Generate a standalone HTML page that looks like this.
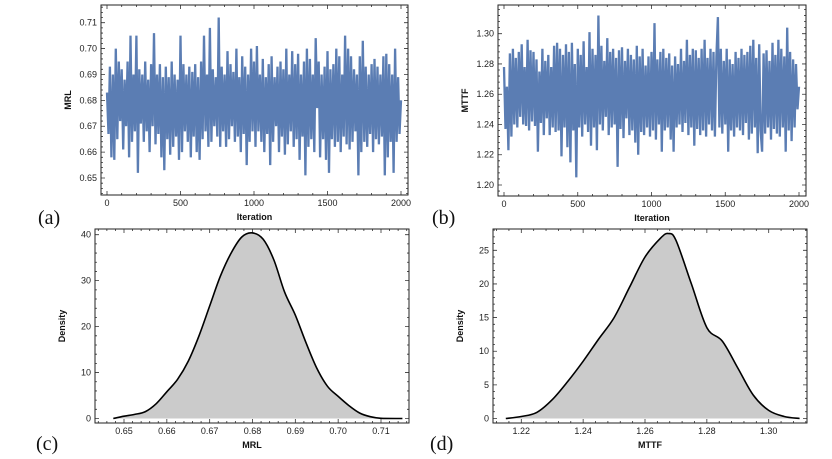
<!DOCTYPE html>
<html><head><meta charset="utf-8"><style>
body{margin:0;background:#fff;}
svg{display:block;font-family:"Liberation Sans",sans-serif;}
.tl{font-size:9px;fill:#222;}
.at{font-size:9px;font-weight:bold;fill:#111;}
.pl{font-family:"Liberation Serif",serif;font-size:20px;fill:#111;}
</style></head><body>
<svg id="fig" width="832" height="459">
<text class="pl" x="38" y="224">(a)</text>
<text class="pl" x="432" y="224">(b)</text>
<text class="pl" x="36" y="450">(c)</text>
<text class="pl" x="430" y="450">(d)</text>
</svg>
<script>
const mrlTrace=[683,667,693,658,690,657,700,665,695,672,692,661,688,670,695,658,705,664,690,668,
705,652,692,671,690,664,695,668,688,660,694,670,706,663,690,667,694,658,689,653,
693,665,689,659,695,662,690,666,688,657,705,660,694,668,690,664,693,658,691,666,
694,660,689,657,695,665,705,668,690,662,708,664,692,670,689,666,712,662,693,668,
690,662,699,665,694,670,691,664,700,666,689,660,697,667,693,655,690,664,700,668,
695,662,701,668,690,664,696,660,689,667,694,655,697,664,689,670,693,660,695,666,
692,659,700,663,690,668,699,662,694,665,698,657,690,666,695,651,700,662,696,665,
690,660,704,677,695,658,690,665,693,657,699,652,692,665,694,662,700,664,697,660,
690,666,705,663,700,661,697,664,692,668,690,651,697,660,703,664,693,662,690,667,
694,660,696,665,693,663,690,666,697,651,698,658,694,664,690,652,700,664,689,667,680];
const mttfTrace=[1278,1237,1265,1223,1287,1232,1290,1240,1284,1238,1288,1245,1293,1240,1278,1239,1296,1236,1289,1242,
1288,1239,1283,1222,1275,1241,1290,1233,1282,1244,1286,1233,1278,1238,1292,1235,1294,1236,1290,1219,
1286,1238,1293,1225,1288,1215,1294,1236,1280,1205,1290,1238,1286,1232,1295,1240,1278,1235,1301,1226,
1290,1238,1286,1223,1312,1240,1292,1236,1282,1245,1297,1233,1288,1238,1290,1240,1284,1212,1289,1237,
1291,1231,1282,1244,1290,1233,1286,1236,1283,1228,1292,1220,1285,1235,1290,1233,1279,1238,1285,1232,
1288,1236,1307,1230,1283,1240,1288,1222,1290,1236,1284,1238,1287,1230,1279,1222,1285,1238,1280,1240,
1290,1235,1282,1241,1296,1233,1286,1238,1290,1226,1289,1237,1284,1233,1290,1236,1296,1232,1284,1240,
1290,1236,1288,1232,1285,1311,1238,1290,1234,1282,1240,1290,1222,1283,1236,1280,1232,1288,1238,1284,
1236,1290,1233,1286,1241,1288,1230,1292,1234,1296,1238,1284,1221,1293,1236,1222,1287,1234,1289,1238,
1282,1230,1294,1237,1286,1234,1296,1232,1290,1238,1285,1222,1304,1236,1288,1229,1283,1238,1280,1250,1265];
const mrlDensX=[0.6475,0.65,0.6525,0.655,0.6575,0.66,0.6625,0.665,0.6675,0.67,0.6725,0.675,0.6775,0.68,0.6825,0.685,0.6875,0.69,0.6925,0.695,0.6975,0.7,0.7025,0.705,0.7075,0.71,0.715];
const mrlDensY=[0,0.5,0.9,1.5,3.2,5.8,8.5,12.5,18,24.5,31,36,39.5,40.4,39,34.5,27.5,22.5,16.5,11,7,4.8,2.8,1.2,0.4,0.05,0];
const mttfDensX=[1.215,1.22,1.225,1.23,1.235,1.24,1.245,1.25,1.255,1.26,1.265,1.2675,1.27,1.275,1.28,1.285,1.29,1.295,1.3,1.305,1.31];
const mttfDensY=[0,0.3,0.9,2.8,5.5,8.5,11.8,15,19.5,24,26.8,27.5,26.5,20,13.5,11.5,7.5,3.5,1.2,0.3,0];
const iterTicks=[0,500,1000,1500,2000];
const mrlTicks=[0.65,0.66,0.67,0.68,0.69,0.70,0.71];
const mttfTicks=[1.20,1.22,1.24,1.26,1.28,1.30];
const dMrlTicks=[0,10,20,30,40];
const dMttfTicks=[0,5,10,15,20,25];
const mrlXTicks=[0.65,0.66,0.67,0.68,0.69,0.70,0.71];
const mttfXTicks=[1.22,1.24,1.26,1.28,1.30];

const NS='http://www.w3.org/2000/svg';
const fig=document.getElementById('fig');
function mk(tag,attrs,parent){const e=document.createElementNS(NS,tag);for(const k in attrs)e.setAttribute(k,attrs[k]);(parent||fig).appendChild(e);return e;}
function lin(d0,d1,r0,r1){return v=>r0+(v-d0)*(r1-r0)/(d1-d0);}

function panel(name,box,sx,sy,xt,yt,xfmt,yfmt,xtitle,ytitle){
  const g=mk('g',{});
  
  
  const [x0,y0,x1,y1]=box;
  const xs=xt.map(sx), ys=yt.map(sy);
  const minorX=[],minorY=[];
  for(let i=0;i<xs.length-1;i++)for(let k=1;k<5;k++)minorX.push(xs[i]+(xs[i+1]-xs[i])*k/5);
  for(let k=1;k<5;k++){minorX.push(xs[0]-(xs[1]-xs[0])*k/5);minorX.push(xs[xs.length-1]+(xs[1]-xs[0])*k/5);}
  for(let i=0;i<ys.length-1;i++)for(let k=1;k<5;k++)minorY.push(ys[i]+(ys[i+1]-ys[i])*k/5);
  for(let k=1;k<5;k++){minorY.push(ys[0]-(ys[1]-ys[0])*k/5);minorY.push(ys[ys.length-1]+(ys[1]-ys[0])*k/5);}
  let p='';
  xs.forEach(x=>{p+=`M${x},${y1}v-4M${x},${y0}v4`;});
  minorX.filter(x=>x>x0&&x<x1).forEach(x=>{p+=`M${x},${y1}v-2M${x},${y0}v2`;});
  ys.forEach(y=>{p+=`M${x0},${y}h4M${x1},${y}h-4`;});
  minorY.filter(y=>y>y0&&y<y1).forEach(y=>{p+=`M${x0},${y}h2M${x1},${y}h-2`;});
  mk('path',{d:p,stroke:'#333','stroke-width':0.8,fill:'none'},g);
  xt.forEach((v,i)=>{const t=mk('text',{x:xs[i],y:y1+11,'text-anchor':'middle',class:'tl'},g);t.textContent=xfmt(v);});
  yt.forEach((v,i)=>{const t=mk('text',{x:x0-4,y:ys[i]+3,'text-anchor':'end',class:'tl'},g);t.textContent=yfmt(v);});
  const xtl=mk('text',{x:(x0+x1)/2,y:y1+25,'text-anchor':'middle',class:'at'},g);xtl.textContent=xtitle;
  
  
  const cy=(y0+y1)/2, cx=x0-30;
  const ytl=mk('text',{x:cx,y:cy,'text-anchor':'middle',class:'at',transform:`rotate(-90 ${cx} ${cy})`},g);ytl.textContent=ytitle;
  
  
  return g;
}
function frame(g,box){const [x0,y0,x1,y1]=box;const r=mk('rect',{x:x0,y:y0,width:x1-x0,height:y1-y0,fill:'none',stroke:'#222','stroke-width':1},g);
  
  }

function trace(name,box,data,scale,yDom,yPix,xt,yt,yfmt,ytitle){
  const sx=lin(0,2000,box[0]+6,box[2]-7);
  const sy=lin(yDom[0],yDom[1],yPix[0],yPix[1]);
  const g=panel(name,box,sx,sy,xt,yt,v=>String(v),yfmt,'Iteration',ytitle);
  const step=2000/(data.length-1);
  const d=data.map((v,i)=>(i?'L':'M')+sx(i*step).toFixed(1)+','+sy(v/scale).toFixed(1)).join('');
  const l=mk('path',{d:d,stroke:'#5b7db3','stroke-width':2.3,fill:'none','stroke-linejoin':'bevel'},g);
  
  
  frame(g,box);
}
function smooth(pts){let d=`M${pts[0][0]},${pts[0][1]}`;
  for(let i=0;i<pts.length-1;i++){const p0=pts[Math.max(0,i-1)],p1=pts[i],p2=pts[i+1],p3=pts[Math.min(pts.length-1,i+2)];
    d+=`C${p1[0]+(p2[0]-p0[0])/6},${p1[1]+(p2[1]-p0[1])/6} ${p2[0]-(p3[0]-p1[0])/6},${p2[1]-(p3[1]-p1[1])/6} ${p2[0]},${p2[1]}`;}
  return d;}
function density(name,box,xs,ys,xd0,xd1,yd1v,xt,yt,xfmt,xtitle){
  const sx=lin(xd0[0],xd0[1],xd1[0],xd1[1]);
  const sy=lin(0,yd1v[0],box[3]-4.5,yd1v[1]);
  const g=panel(name,box,sx,sy,xt,yt,xfmt,v=>String(v),xtitle,'Density');
  const pts=xs.map((x,i)=>[+sx(x).toFixed(1),+sy(ys[i]).toFixed(1)]);
  const c=smooth(pts);
  const a=mk('path',{d:c+`L${pts[pts.length-1][0]},${sy(0)}L${pts[0][0]},${sy(0)}Z`,fill:'#cbcbcb',stroke:'none'},g);
  
  
  const l=mk('path',{d:c,fill:'none',stroke:'#000','stroke-width':1.6},g);
  
  
  frame(g,box);
}
trace('mrl-trace-plot',[101,5,408,195],mrlTrace,1000,[0.65,0.71],[178,22.7],iterTicks,mrlTicks,v=>v.toFixed(2),'MRL');
trace('mttf-trace-plot',[498,5,806,196],mttfTrace,1000,[1.20,1.30],[185,33.7],iterTicks,mttfTicks,v=>v.toFixed(2),'MTTF');
density('mrl-density-plot',[95,229,409,423],mrlDensX,mrlDensY,[0.65,0.71],[124,381],[40,234.7],mrlXTicks,dMrlTicks,v=>v.toFixed(2),'MRL');
density('mttf-density-plot',[493,229,807,423],mttfDensX,mttfDensY,[1.22,1.30],[521.3,768.7],[25,250.3],mttfXTicks,dMttfTicks,v=>v.toFixed(2),'MTTF');
</script>
</body></html>
